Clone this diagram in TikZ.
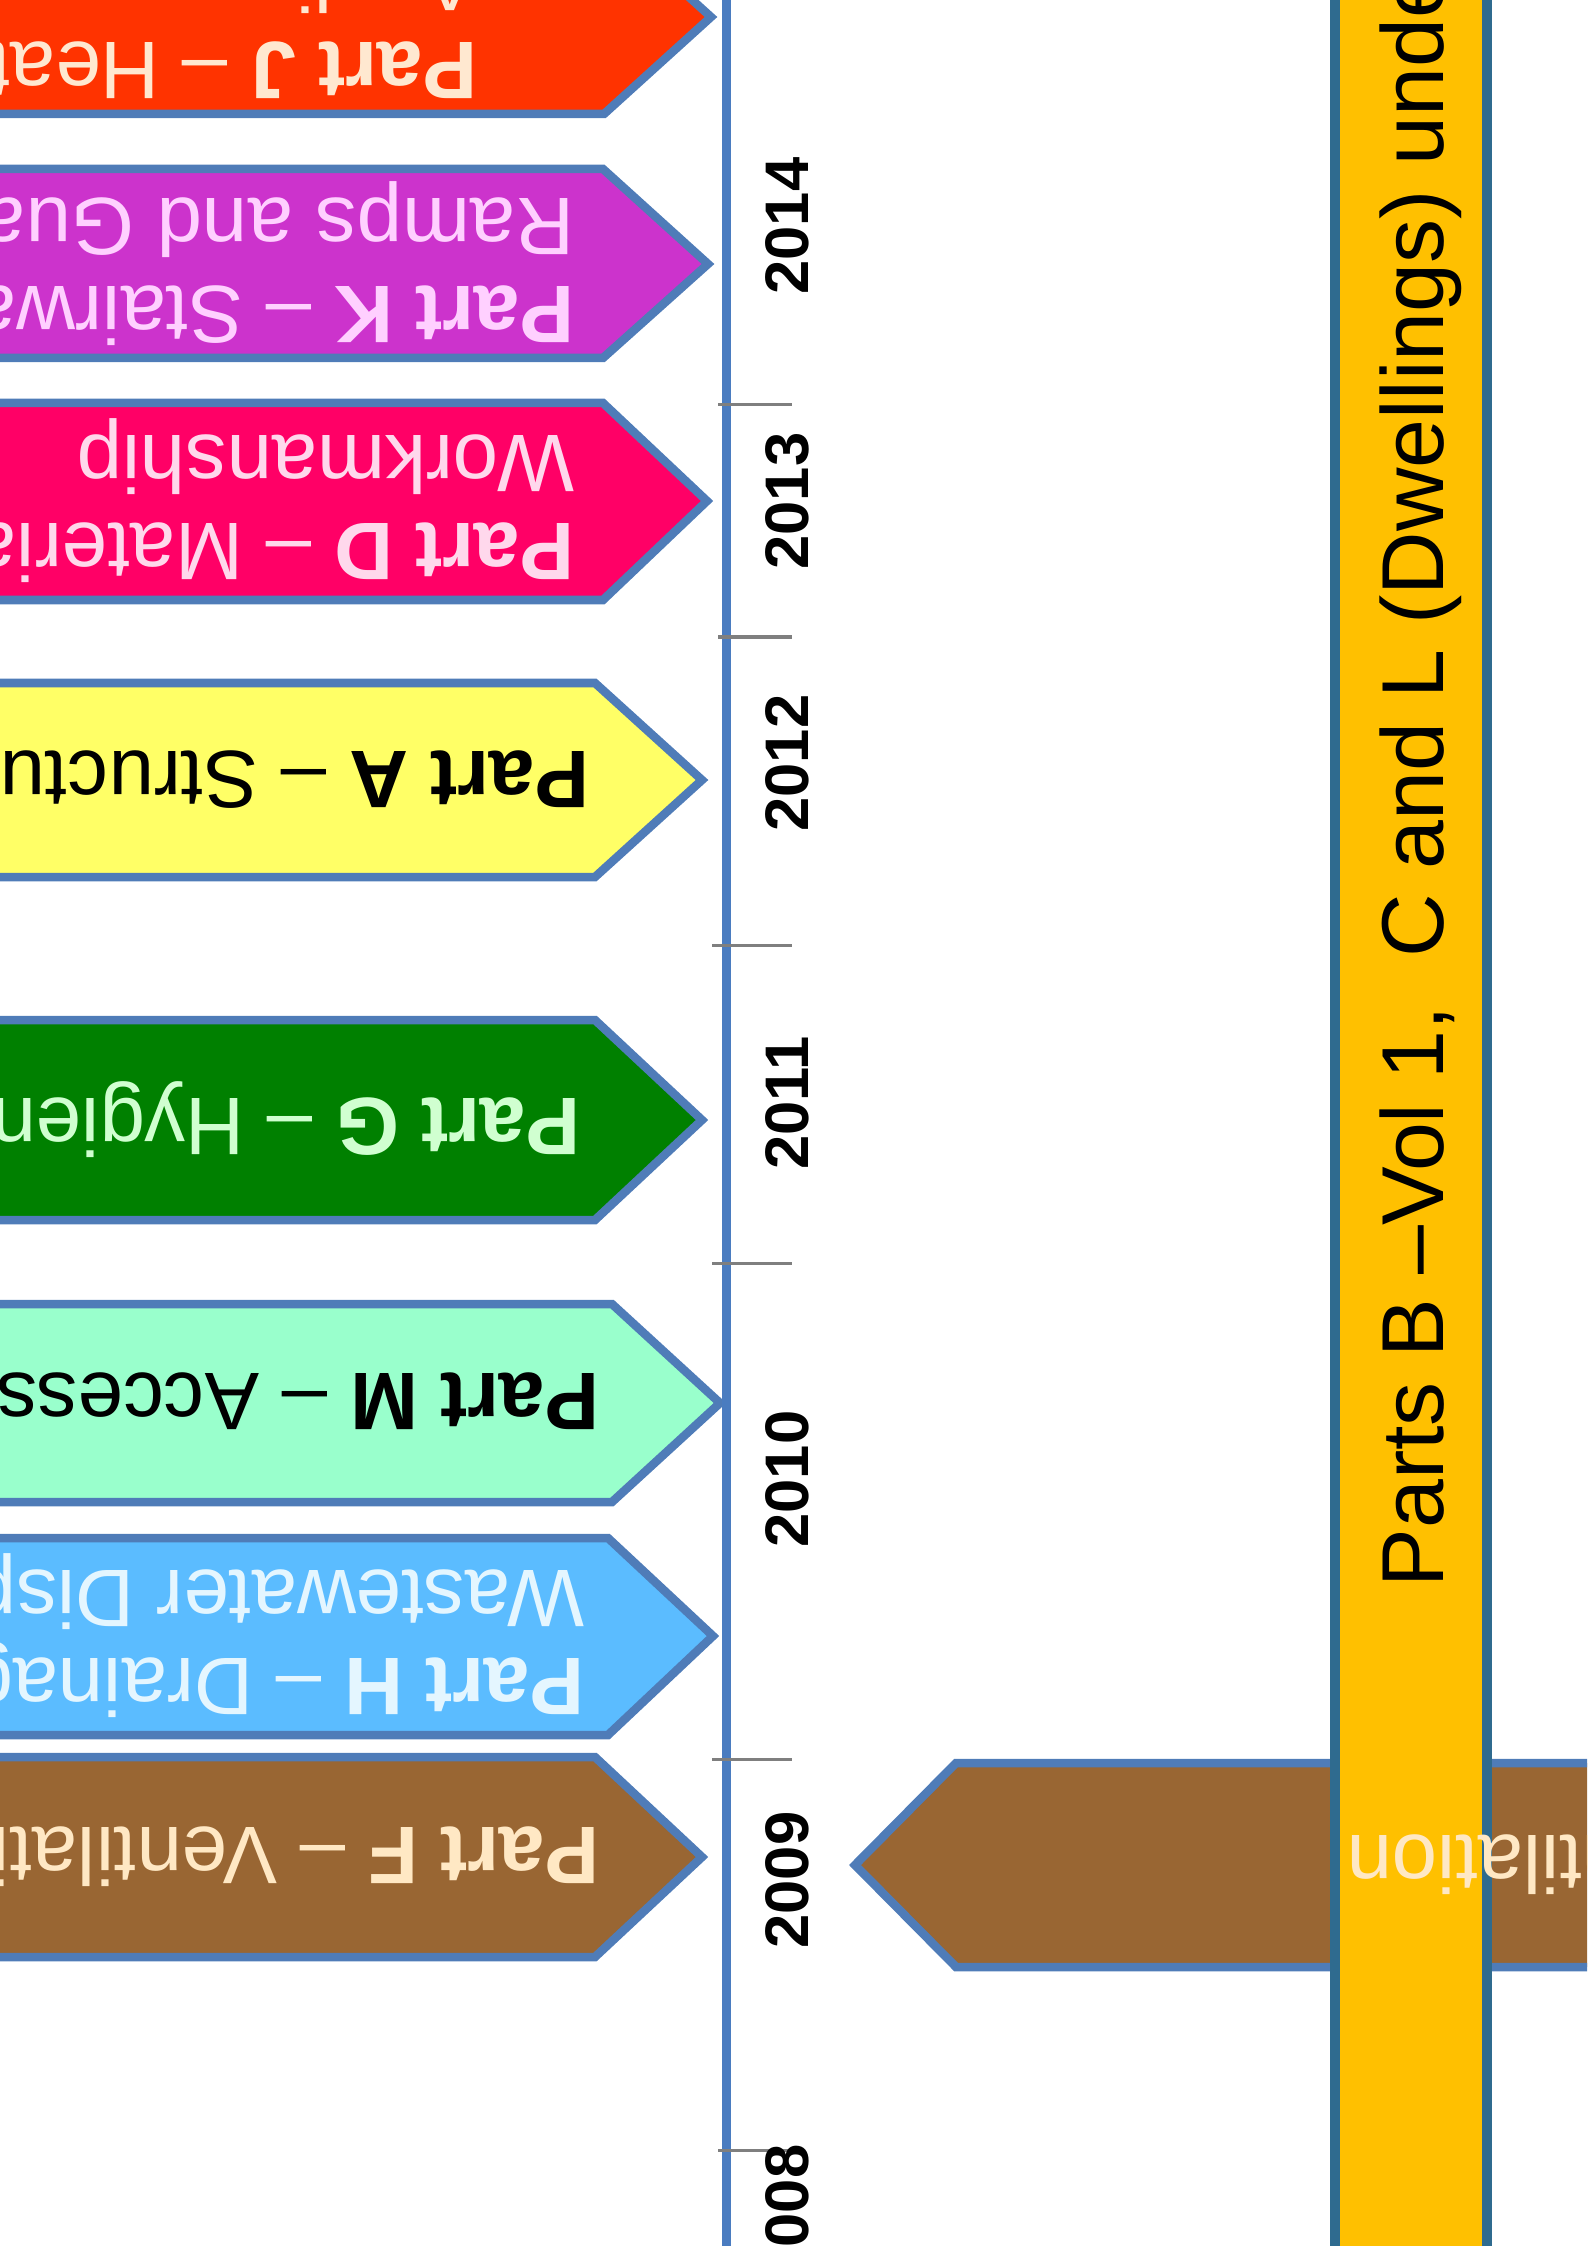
\documentclass[tikz,border=0pt]{standalone}
\usepackage{fontspec}
\setmainfont{Liberation Sans}
\definecolor{edgeblue}{HTML}{4F7CB8}
\definecolor{lineblue}{HTML}{4A7CC0}
\definecolor{bandedge}{HTML}{2F6B8F}
\definecolor{bandfill}{HTML}{FFC000}
\definecolor{tickgrey}{HTML}{7F7F7F}
\definecolor{partJ}{HTML}{FF3300}
\definecolor{partK}{HTML}{CC33CC}
\definecolor{partD}{HTML}{FF0066}
\definecolor{partA}{HTML}{FFFF66}
\definecolor{partG}{HTML}{008000}
\definecolor{partM}{HTML}{99FFCC}
\definecolor{partH}{HTML}{5BBCFF}
\definecolor{partF}{HTML}{996633}
\definecolor{textJ}{HTML}{FFE8D0}
\definecolor{textK}{HTML}{FFD0FF}
\definecolor{textD}{HTML}{FFD8EC}
\definecolor{textG}{HTML}{D0FFD0}
\definecolor{textH}{HTML}{E4F6FF}
\definecolor{textF}{HTML}{FFE8C4}

\begin{document}
\begin{tikzpicture}[x=0.01cm, y=-0.01cm,
  partarrow/.style={fill=#1, draw=edgeblue, line width=0.085cm, line join=miter},
  parttext/.style={rotate=180, anchor=west, inner sep=0pt, align=left, text=#1,
    font=\fontsize{23.2}{25}\selectfont},
  yearlabel/.style={rotate=90, inner sep=0pt, font=\fontsize{17.5}{20}\selectfont\bfseries},
  yeartick/.style={draw=tickgrey, line width=0.03cm}]

% Frame
\useasboundingbox (0,0) rectangle (1587,2246);
\clip (0,0) rectangle (1587,2246);

% Part arrows
\draw[partarrow=partJ] (-20,-80) -- (604,-80) -- (711,17) -- (604,114) -- (-20,114) -- cycle;
\draw[partarrow=partK] (-20,169) -- (603,169) -- (708,264) -- (603,358) -- (-20,358) -- cycle;
\draw[partarrow=partD] (-20,403) -- (603,403) -- (707,501) -- (603,600) -- (-20,600) -- cycle;
\draw[partarrow=partA] (-20,683) -- (595,683) -- (702,780) -- (595,877) -- (-20,877) -- cycle;
\draw[partarrow=partG] (-20,1020) -- (595,1020) -- (702,1120) -- (595,1220) -- (-20,1220) -- cycle;
\draw[partarrow=partM] (-20,1304) -- (612,1304) -- (720,1403) -- (612,1502) -- (-20,1502) -- cycle;
\draw[partarrow=partH] (-20,1538) -- (608,1538) -- (713,1636) -- (608,1735) -- (-20,1735) -- cycle;
\draw[partarrow=partF] (-20,1757) -- (595,1757) -- (702,1857) -- (595,1957) -- (-20,1957) -- cycle;

% Labels of the arrows
\node[parttext=textJ] (textJ) at (478,20) {\textbf{Part J} – Heat Producing\\Appliances};
\node[parttext=textK] (textK) at (575,264) {\textbf{Part K} – Stairways, Ladders,\\Ramps and Guards};
\node[parttext=textD] (textD) at (575,501) {\textbf{Part D} – Materials and\\Workmanship};
\node[parttext=black] (textA) at (590,780) {\textbf{Part A} – Structure};
\node[parttext=textG] (textG) at (581,1120) {\textbf{Part G} – Hygiene};
\node[parttext=black] (textM) at (600,1403) {\textbf{Part M} – Access and Use};
\node[parttext=textH] (textH) at (585,1636) {\textbf{Part H} – Drainage and\\Wastewater Disposal};
\node[parttext=textF] (textF) at (600,1857) {\textbf{Part F} – Ventilation};

% Time line
\draw[lineblue, line width=0.09cm] (726,-10) -- (726,2260);

% Ticks
\draw[yeartick] (718,405) -- (792,405);
\draw[yeartick] (718,637) -- (792,637);
\draw[yeartick] (712,945) -- (792,945);
\draw[yeartick] (712,1263) -- (792,1263);
\draw[yeartick] (712,1759) -- (792,1759);
\draw[yeartick] (718,2150) -- (792,2150);

% Years
\node[yearlabel] (y2014) at (787,226) {2014};
\node[yearlabel] (y2013) at (787,501) {2013};
\node[yearlabel] (y2012) at (787,763) {2012};
\node[yearlabel] (y2011) at (787,1103) {2011};
\node[yearlabel] (y2010) at (787,1479) {2010};
\node[yearlabel] (y2009) at (787,1880) {2009};
\node[yearlabel] (y2008) at (787,2213) {2008};

% Arrow back from the band
\draw[partarrow=partF] (1600,1763) -- (956,1763) -- (855,1865) -- (956,1967) -- (1600,1967) -- cycle;

% Band
\draw[fill=bandfill, draw=bandedge, line width=0.1cm] (1335,-10) rectangle (1487,2260);
\node[rotate=90, anchor=base west, inner sep=0pt, font=\fontsize{25}{28}\selectfont]
  (band) at (1443,1588) {Parts B –Vol 1,~ C and L (Dwellings) under};

% Label of the arrow back
\node[rotate=180, anchor=east, inner sep=0pt, text=textF, font=\fontsize{23.2}{25}\selectfont]
  (textFback) at (1346,1865) {\textbf{Part F} – Ventilation};
\end{tikzpicture}
\end{document}
